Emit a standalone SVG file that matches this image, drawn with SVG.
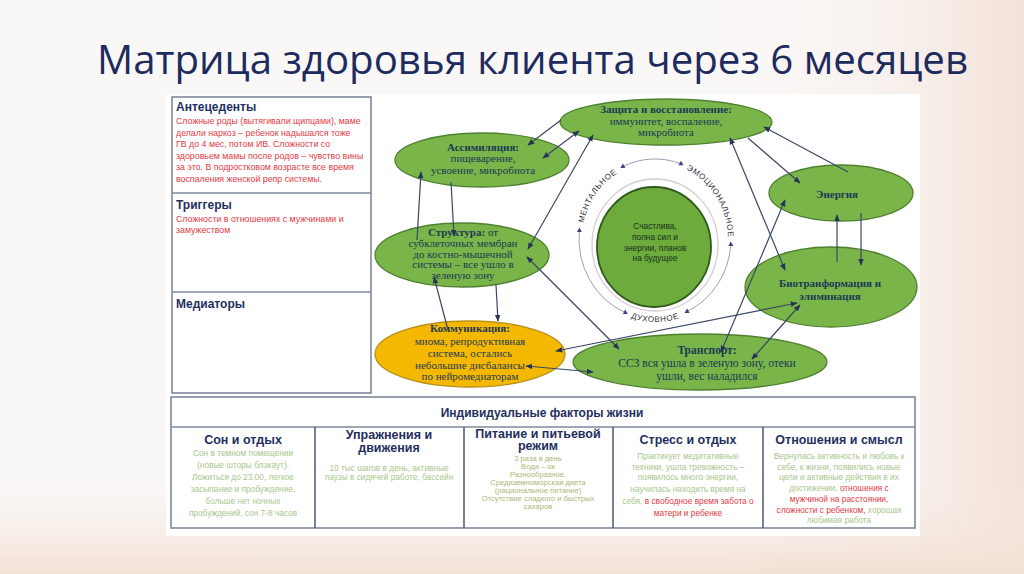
<svg xmlns="http://www.w3.org/2000/svg" width="1024" height="574" viewBox="0 0 1024 574">
<defs>
<linearGradient id="bgR" x1="0" y1="0" x2="1" y2="0">
<stop offset="0" stop-color="#faf8f7" stop-opacity="0"/>
<stop offset="1" stop-color="#f3e2d8"/>
</linearGradient>
<linearGradient id="bgB" x1="0" y1="0" x2="0" y2="1">
<stop offset="0" stop-color="#f6ece6" stop-opacity="0"/>
<stop offset="1" stop-color="#f2e0d4"/>
</linearGradient>
<marker id="ah" viewBox="0 0 10 10" refX="9" refY="5" markerWidth="7" markerHeight="7" orient="auto-start-reverse" markerUnits="userSpaceOnUse">
<path d="M0,1 L10,5 L0,9 z" fill="#283456"/>
</marker>
<path id="pMent" d="M582.7,228.3 A73,77 0 0 1 621.9,170.4"/>
<path id="pEmo" d="M682.3,167.6 A73,77 0 0 1 728.0,241.7"/>
<path id="pDuh" d="M625.4,316.0 A79,83 0 0 0 684.6,316.0"/>
</defs>
<style>
.title{font-family:"Open Sans","Noto Sans",sans-serif;font-size:40px;font-weight:500;fill:#1e2b5e}
.ell{fill:#79b548;stroke:#4f8030;stroke-width:1.3}
.yel{fill:#f4b800;stroke:#b8901a;stroke-width:1.3}
.et{font-family:"Liberation Serif",serif;font-size:11px;fill:#1d3a55;text-anchor:middle}
.eb{font-weight:bold}
.ct{font-family:"Liberation Sans",sans-serif;font-size:8.3px;fill:#16311a;text-anchor:middle}
.ring{fill:none;stroke:#a69bb5;stroke-width:1}
.rl{font-family:"Liberation Sans",sans-serif;font-size:8px;fill:#2f2f3a;letter-spacing:0.6px}
.tri{fill:#4b3a85}
.conn line{stroke:#3c4767;stroke-width:1.2;marker-end:url(#ah)}
.conn line.dbl{marker-start:url(#ah)}
.box{fill:#ffffff;stroke:#7f889c;stroke-width:1.6}
.hd{font-family:"Liberation Sans",sans-serif;font-weight:bold;font-size:12px;fill:#1f2f5e}
.rt{font-family:"Liberation Sans",sans-serif;font-size:8.8px;fill:#e23a45}
.th{font-family:"Liberation Sans",sans-serif;font-weight:bold;font-size:12.5px;fill:#1f2f5e;text-anchor:middle}
.tb{font-family:"Liberation Sans",sans-serif;font-size:8.3px;fill:#a9c68c;text-anchor:middle}
.tp{font-size:7.6px;fill:#a9b978}
.tr{fill:#e23a45}
</style>
<rect width="1024" height="574" fill="#faf8f7"/>
<rect x="700" y="0" width="324" height="574" fill="url(#bgR)"/>
<rect x="0" y="480" width="1024" height="94" fill="url(#bgB)"/>
<text class="title" x="97" y="74" textLength="871" lengthAdjust="spacingAndGlyphs">Матрица здоровья клиента через 6 месяцев</text>
<rect x="166" y="94" width="754" height="442" fill="#ffffff"/>

<g id="left-panel">
<rect class="box" x="172" y="97" width="199" height="296"/>
<line x1="172" y1="193" x2="371" y2="193" stroke="#7f889c" stroke-width="1.6"/>
<line x1="172" y1="292" x2="371" y2="292" stroke="#7f889c" stroke-width="1.6"/>
<g id="antecedents">
<text class="hd" x="176" y="111">Антецеденты</text>
<text class="rt" x="176" y="124">Сложные роды (вытягивали щипцами),  маме</text>
<text class="rt" x="176" y="135.5">делали наркоз – ребенок надышался тоже</text>
<text class="rt" x="176" y="147">ГВ до 4 мес, потом ИВ. Сложности со</text>
<text class="rt" x="176" y="158.5">здоровьем мамы после родов – чувство вины</text>
<text class="rt" x="176" y="170">за это. В подростковом возрасте все время</text>
<text class="rt" x="176" y="181.5">воспаления женской репр системы.</text>
</g>
<g id="triggers">
<text class="hd" x="176" y="209">Триггеры</text>
<text class="rt" x="176" y="222">Сложности в отношениях с мужчинами и</text>
<text class="rt" x="176" y="233">замужеством</text>
</g>
<g id="mediators">
<text class="hd" x="176" y="308">Медиаторы</text>
</g>
</g>

<g id="ring">
<ellipse cx="655" cy="245" rx="63" ry="66" fill="none" stroke="#d6ccd3" stroke-width="1.3"/>
<path class="ring" d="M622.9,166.5 A76,80 0 0 1 681.0,163.8"/>
<path class="ring" d="M730.8,244.6 A76,80 0 0 1 687.1,311.5"/>
<path class="ring" d="M625.3,312.6 A76,80 0 0 1 579.4,230.6"/>
<polygon class="tri" points="622.9,163.5 620.4,168 625.4,168"/>
<polygon class="tri" points="681,160.8 678.5,165.3 683.5,165.3"/>
<polygon class="tri" points="730.8,241.6 728.3,246.1 733.3,246.1"/>
<polygon class="tri" points="687.1,308.5 684.6,313 689.6,313"/>
<polygon class="tri" points="625.3,309.6 622.8,314.1 627.8,314.1"/>
<polygon class="tri" points="579.4,227.6 576.9,232.1 581.9,232.1"/>
<text class="rl"><textPath href="#pMent" startOffset="50%" text-anchor="middle">МЕНТАЛЬНОЕ</textPath></text>
<text class="rl"><textPath href="#pEmo" startOffset="50%" text-anchor="middle">ЭМОЦИОНАЛЬНОЕ</textPath></text>
<text class="rl"><textPath href="#pDuh" startOffset="50%" text-anchor="middle">ДУХОВНОЕ</textPath></text>
</g>

<g id="center">
<ellipse cx="654" cy="247" rx="57" ry="60" fill="#6dab3d" stroke="#2f5a1c" stroke-width="1.8"/>
<text class="ct" x="655" y="229">Счастлива,</text>
<text class="ct" x="655" y="240">полна сил и</text>
<text class="ct" x="655" y="251">энергии, планов</text>
<text class="ct" x="655" y="261">на будущее</text>
</g>

<g id="zashchita">
<ellipse class="ell" cx="666" cy="122" rx="106" ry="23"/>
<text class="et" x="666" y="113"><tspan class="eb">Защита и восстановление:</tspan></text>
<text class="et" x="666" y="125">иммунитет, воспаление,</text>
<text class="et" x="666" y="136">микробиота</text>
</g>
<g id="assimilyatsiya">
<ellipse class="ell" cx="482" cy="160" rx="87" ry="27"/>
<text class="et eb" x="483" y="151">Ассимиляция:</text>
<text class="et" x="483" y="162">пищеварение,</text>
<text class="et" x="483" y="174">усвоение, микробиота</text>
</g>
<g id="struktura">
<ellipse class="ell" cx="462" cy="255" rx="87" ry="32"/>
<text class="et" x="463" y="236"><tspan class="eb">Структура:</tspan> от</text>
<text class="et" x="463" y="247">субклеточных мембран</text>
<text class="et" x="463" y="258">до костно-мышечной</text>
<text class="et" x="463" y="268">системы – все ушло в</text>
<text class="et" x="463" y="279">зеленую зону</text>
</g>
<g id="kommunikatsiya">
<ellipse class="yel" cx="470" cy="354" rx="95" ry="33"/>
<text class="et eb" x="470" y="332">Коммуникация:</text>
<text class="et" x="470" y="345">миома, репродуктивная</text>
<text class="et" x="470" y="357">система, остались</text>
<text class="et" x="470" y="369">небольшие дисбалансы</text>
<text class="et" x="470" y="380">по нейромедиаторам</text>
</g>
<g id="transport">
<ellipse class="ell" cx="700" cy="362" rx="127" ry="28"/>
<text class="et eb" x="707" y="354" style="font-size:11.5px">Транспорт:</text>
<text class="et" x="707" y="367" style="font-size:11.5px">ССЗ вся ушла в зеленую зону, отеки</text>
<text class="et" x="707" y="380" style="font-size:11.5px">ушли, вес наладился</text>
</g>
<g id="energiya">
<ellipse class="ell" cx="841" cy="193" rx="72" ry="28"/>
<text class="et eb" x="837" y="198">Энергия</text>
</g>
<g id="biotransformatsiya">
<ellipse class="ell" cx="831" cy="287" rx="86" ry="40"/>
<text class="et eb" x="830" y="287">Биотранформация и</text>
<text class="et eb" x="830" y="300">элиминация</text>
</g>

<g class="conn" id="connectors">
<line x1="561" y1="120" x2="528" y2="145"/>
<line class="dbl" x1="543" y1="158" x2="579" y2="131"/>
<line class="dbl" x1="528" y1="249" x2="593" y2="135"/>
<line x1="417" y1="240" x2="421" y2="172"/>
<line x1="451" y1="182" x2="454" y2="236"/>
<line x1="448" y1="330" x2="434" y2="277"/>
<line x1="496" y1="285" x2="498" y2="321"/>
<line class="dbl" x1="527" y1="257" x2="619" y2="349"/>
<line class="dbl" x1="526" y1="366" x2="593" y2="372"/>
<line class="dbl" x1="556" y1="351" x2="797" y2="303"/>
<line class="dbl" x1="752" y1="359" x2="800" y2="305"/>
<line class="dbl" x1="721" y1="352" x2="785" y2="200"/>
<line class="dbl" x1="730" y1="138" x2="785" y2="270"/>
<line x1="748" y1="138" x2="800" y2="183"/>
<line x1="848" y1="172" x2="764" y2="127"/>
<line x1="837" y1="262" x2="837" y2="215"/>
<line x1="861" y1="213" x2="861" y2="265"/>
</g>

<g id="factors-table">
<rect class="box" x="171" y="397" width="744" height="131"/>
<line x1="171" y1="427" x2="915" y2="427" stroke="#7f889c" stroke-width="1.6"/>
<line x1="315" y1="427" x2="315" y2="528" stroke="#55617d" stroke-width="1.6"/>
<line x1="464" y1="427" x2="464" y2="528" stroke="#55617d" stroke-width="1.6"/>
<line x1="613" y1="427" x2="613" y2="528" stroke="#55617d" stroke-width="1.6"/>
<line x1="763" y1="427" x2="763" y2="528" stroke="#55617d" stroke-width="1.6"/>
<text class="th" x="542" y="417" style="font-size:12px">Индивидуальные факторы жизни</text>
<g id="son">
<text class="th" x="243" y="444">Сон и отдых</text>
<text class="tb" x="243" y="456">Сон в темном помещении</text>
<text class="tb" x="243" y="468">(новые шторы блэкаут).</text>
<text class="tb" x="243" y="480">Ложиться до 23.00,  легкое</text>
<text class="tb" x="243" y="492">засыпание и пробуждение,</text>
<text class="tb" x="243" y="504">больше нет ночных</text>
<text class="tb" x="243" y="516">пробуждений, сон 7-8 часов</text>
</g>
<g id="uprazhneniya">
<text class="th" x="389" y="439">Упражнения и</text>
<text class="th" x="389" y="452">движения</text>
<text class="tb" x="389" y="471">10 тыс шагов в день, активные</text>
<text class="tb" x="389" y="480">паузы в сидячей работе, бассейн</text>
</g>
<g id="pitanie">
<text class="th" x="538" y="438">Питание и питьевой</text>
<text class="th" x="538" y="450">режим</text>
<text class="tb tp" x="538" y="461">3 раза в день</text>
<text class="tb tp" x="538" y="469">Вода – ок</text>
<text class="tb tp" x="538" y="477">Разнообразное.</text>
<text class="tb tp" x="538" y="485">Средиземноморская диета</text>
<text class="tb tp" x="538" y="493">(рациональное питание)</text>
<text class="tb tp" x="538" y="501">Отсутствие сладкого и быстрых</text>
<text class="tb tp" x="538" y="509">сахаров</text>
</g>
<g id="stress">
<text class="th" x="688" y="444">Стресс и отдых</text>
<text class="tb" x="688" y="459">Практикует медитативные</text>
<text class="tb" x="688" y="470">техники, ушла тревожность –</text>
<text class="tb" x="688" y="480">появилось много энергии,</text>
<text class="tb" x="688" y="492">научилась находить время на</text>
<text class="tb" x="688" y="504">себя, <tspan class="tr">в свободное время забота о</tspan></text>
<text class="tb tr" x="688" y="516">матери и ребенке</text>
</g>
<g id="otnosheniya">
<text class="th" x="839" y="444">Отношения и смысл</text>
<text class="tb" x="839" y="459">Вернулась активность и любовь к</text>
<text class="tb" x="839" y="470">себе, к жизни, появились новые</text>
<text class="tb" x="839" y="480">цели и активные действия в их</text>
<text class="tb" x="839" y="491">достижении, <tspan class="tr">отношения с</tspan></text>
<text class="tb tr" x="839" y="502">мужчиной на расстоянии,</text>
<text class="tb" x="839" y="513"><tspan class="tr">сложности с ребенком,</tspan> хорошая</text>
<text class="tb" x="839" y="523">любимая работа</text>
</g>
</g>
</svg>
